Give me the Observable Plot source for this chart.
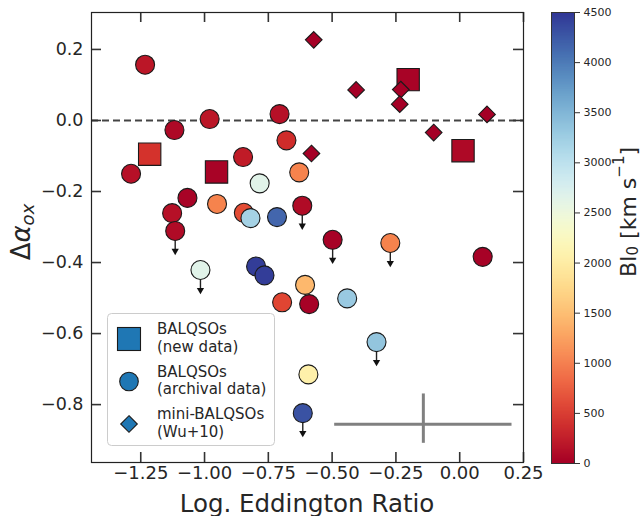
<!DOCTYPE html>
<html><head><meta charset="utf-8">
<script src="https://cdn.jsdelivr.net/npm/d3@7"></script>
<script src="https://cdn.jsdelivr.net/npm/@observablehq/plot@0.6"></script>
<style>
body{margin:0;background:#fff;font-family:"DejaVu Sans",sans-serif;}
#wrap{position:relative;width:642px;height:516px;overflow:hidden;}
#main{position:absolute;left:0;top:0;}
#cbar{position:absolute;left:540px;top:0;}
#legend{position:absolute;left:107px;top:313px;}
</style></head><body>
<div id="wrap"><div id="main"></div><div id="cbar"></div><div id="legend"></div></div>
<script>
// ---- data ----
// BALQSOs (new data): squares
const newX  = [-1.215, -0.953, -0.202, 0.013];
const newY  = [-0.095, -0.145, 0.115, -0.085];
const newBI = [450, 30, 30, 80];

// BALQSOs (archival data): circles (lim = upper limit)
const archX  = [-1.233, -0.980, -0.706, -1.118, -0.679, -0.849, -1.288, -0.629, -0.784, -1.067, -0.951, -1.127, -0.846, -0.820, -0.716, -0.617, -1.115, -0.498, -0.272, 0.090, -1.016, -0.798, -0.765, -0.606, -0.696, -0.590, -0.441, -0.326, -0.593, -0.615];
const archY  = [0.157, 0.004, 0.018, -0.027, -0.056, -0.103, -0.150, -0.146, -0.177, -0.218, -0.235, -0.261, -0.260, -0.275, -0.272, -0.240, -0.311, -0.336, -0.345, -0.384, -0.421, -0.411, -0.436, -0.463, -0.512, -0.517, -0.501, -0.624, -0.715, -0.824];
const archBI = [200, 200, 150, 80, 400, 250, 150, 1050, 2650, 30, 1050, 150, 650, 3200, 4150, 100, 100, 20, 1050, 20, 2650, 4450, 4450, 1450, 600, 20, 3300, 3350, 2050, 4300];
const archLim = [0,0,0,0,0,0,0,0,0,0,0,0,0,0,0,1,1,1,1,0,1,0,0,0,0,0,0,1,0,1];

// mini-BALQSOs (Wu+10): diamonds
const miniX  = [-0.572, -0.406, -0.231, -0.235, 0.107, -0.102, -0.581];
const miniY  = [0.227, 0.086, 0.087, 0.046, 0.017, -0.034, -0.093];
const miniBI = [0, 0, 0, 0, 0, 0, 0];

// typical error bar
const errCX = [-0.1425], errCY = [-0.855], errHalfX = [0.3475], errY1 = [-0.909], errY2 = [-0.770];

const xTicks = [-1.25, -1.00, -0.75, -0.50, -0.25, 0.00, 0.25];
const yTicks = [0.2, 0.0, -0.2, -0.4, -0.6, -0.8];
const cbTicks = [0, 500, 1000, 1500, 2000, 2500, 3000, 3500, 4000, 4500];
const legendLabels = [["BALQSOs", "(new data)"], ["BALQSOs", "(archival data)"], ["mini-BALQSOs", "(Wu+10)"]];
const xLabel = "Log. Eddington Ratio";

// ---- build ----
const arch = archX.map((x, i) => ({x, y: archY[i], bi: archBI[i], lim: archLim[i]}));
const newD = newX.map((x, i) => ({x, y: newY[i], bi: newBI[i]}));
const mini = miniX.map((x, i) => ({x, y: miniY[i], bi: miniBI[i]}));
const lims = arch.filter(d => d.lim);
const errH = errCX.map((x, i) => ({x1: x - errHalfX[i], x2: x + errHalfX[i], y: errCY[i]}));
const errV = errCX.map((x, i) => ({x, y1: errY1[i], y2: errY2[i]}));

const color = {type: "linear", scheme: "RdYlBu", domain: [0, 4500]};
const ink = "#262626";

// layout
const W = 540, H = 516, mL = 91, mR = 17, mT = 12, mB = 54;
const xDom = [-1.443, 0.25], yDom = [-0.963, 0.304];
const pxX = (W - mL - mR) / (xDom[1] - xDom[0]);   // px per x unit
const pxY = (H - mT - mB) / (yDom[1] - yDom[0]);   // px per y unit
const TICK = 10;                                     // inward tick length, px
const ARROW = 21 / pxY;                              // arrow shaft length

const tickStyle = {stroke: "#333", strokeWidth: 1.6};

const main = Plot.plot({
  width: W, height: H,
  marginLeft: mL, marginRight: mR, marginTop: mT, marginBottom: mB,
  x: {domain: xDom},
  y: {domain: yDom},
  color,
  style: {fontFamily: "DejaVu Sans", color: ink, background: "white", overflow: "visible"},
  marks: [
    Plot.ruleY([0], {stroke: "#444", strokeWidth: 2, strokeDasharray: "7,4"}),
    Plot.ruleY(errH, {y: "y", x1: "x1", x2: "x2", stroke: "#808080", strokeWidth: 3}),
    Plot.ruleX(errV, {x: "x", y1: "y1", y2: "y2", stroke: "#808080", strokeWidth: 3}),
    Plot.link(lims, {x1: "x", x2: "x", y1: "y", y2: d => d.y - ARROW, stroke: "#222", strokeWidth: 1.4}),
    Plot.dot(lims, {x: "x", y: "y", dy: 20, symbol: "triangle", rotate: 180, r: 2.7, fill: "#111", stroke: "none"}),
    Plot.dot(arch, {x: "x", y: "y", fill: "bi", r: 9.5, stroke: "#1a1a1a", strokeWidth: 1.1}),
    Plot.dot(newD, {x: "x", y: "y", fill: "bi", symbol: "square", r: 12.6, stroke: "#1a1a1a", strokeWidth: 1.1}),
    Plot.dot(mini, {x: "x", y: "y", fill: "bi", symbol: "diamond2", r: 7.5, stroke: "#1a1a1a", strokeWidth: 1.1}),
    // inward ticks on all four sides
    Plot.ruleX(xTicks, {x: d => d, y1: yDom[0], y2: yDom[0] + TICK / pxY, ...tickStyle}),
    Plot.ruleX(xTicks, {x: d => d, y1: yDom[1], y2: yDom[1] - TICK / pxY, ...tickStyle}),
    Plot.ruleY(yTicks, {y: d => d, x1: xDom[0], x2: xDom[0] + TICK / pxX, ...tickStyle}),
    Plot.ruleY(yTicks, {y: d => d, x1: xDom[1], x2: xDom[1] - TICK / pxX, ...tickStyle}),
    Plot.frame({stroke: "#222", strokeWidth: 1.2}),
    Plot.axisX({ticks: xTicks, anchor: "bottom", tickSize: 0, tickPadding: 4, tickFormat: d3.format(".2f"), fontSize: 18, label: null, fill: ink}),
    Plot.axisY({ticks: yTicks, anchor: "left", tickSize: 0, tickPadding: 8, tickFormat: d3.format(".1f"), fontSize: 17.5, label: null, fill: ink})
  ]
});
document.getElementById("main").appendChild(main);

const ms = d3.select(main);
ms.append("text").attr("x", mL + (W - mL - mR) / 2).attr("y", 503).attr("text-anchor", "middle").attr("dominant-baseline", "central")
  .attr("font-size", 24.5).attr("fill", ink).attr("font-family", "DejaVu Sans").text(xLabel);
const yl = ms.append("text").attr("transform", "translate(21,232) rotate(-90)").attr("text-anchor", "middle")
  .attr("dominant-baseline", "central").attr("font-size", 26).attr("fill", ink).attr("font-family", "DejaVu Sans");
yl.append("tspan").text("Δ");
yl.append("tspan").attr("font-style", "italic").text("α");
yl.append("tspan").attr("font-style", "italic").attr("font-size", 18).attr("dy", 6).text("ox");

// ---- colorbar ----
const STEP = 10;
const strips = d3.range(cbTicks[0], cbTicks[cbTicks.length - 1], STEP);
const cbar = Plot.plot({
  width: 102, height: 516,
  marginLeft: 11, marginRight: 68, marginTop: 12, marginBottom: 53,
  x: {domain: [0, 1], axis: null},
  y: {domain: [0, 4500], axis: null},
  color,
  style: {fontFamily: "DejaVu Sans", color: ink, background: "transparent", overflow: "visible"},
  marks: [
    Plot.rect(strips, {x1: 0, x2: 1, y1: d => d, y2: d => Math.min(d + STEP * 1.6, 4500), fill: d => d + STEP / 2}),
    Plot.frame({stroke: "#333", strokeWidth: 1}),
    Plot.axisY({ticks: cbTicks, anchor: "right", tickSize: 5, tickPadding: 4, tickFormat: d3.format("d"), fontSize: 11, label: null, stroke: "#333", fill: ink})
  ]
});
document.getElementById("cbar").appendChild(cbar);
const cl = d3.select(cbar).append("text").attr("transform", "translate(88,212) rotate(-90)").attr("text-anchor", "middle")
  .attr("dominant-baseline", "central").attr("font-size", 22).attr("fill", ink).attr("font-family", "DejaVu Sans");
cl.append("tspan").text("BI");
cl.append("tspan").attr("font-size", 15).attr("dy", 5).text("0");
cl.append("tspan").attr("dy", -5).text(" [km s");
cl.append("tspan").attr("font-size", 15).attr("dy", -9).text("−1");
cl.append("tspan").attr("dy", 9).text("]");

// ---- legend ----
const lg = d3.select("#legend").append("svg").attr("width", 170).attr("height", 136);
lg.append("rect").attr("x", 0.5).attr("y", 0.5).attr("width", 167).attr("height", 132).attr("rx", 4)
  .attr("fill", "white").attr("fill-opacity", 0.85).attr("stroke", "#cccccc");
const legBlue = "#1f77b4";
const rowY = [26, 68.5, 111];
lg.append("rect").attr("x", 22 - 11.5).attr("y", rowY[0] - 11.5).attr("width", 23).attr("height", 23)
  .attr("fill", legBlue).attr("stroke", "#1a1a1a").attr("stroke-width", 1.1);
lg.append("circle").attr("cx", 22).attr("cy", rowY[1]).attr("r", 9.3)
  .attr("fill", legBlue).attr("stroke", "#1a1a1a").attr("stroke-width", 1.1);
lg.append("path").attr("d", `M22,${rowY[2] - 8.3}L30.3,${rowY[2]}L22,${rowY[2] + 8.3}L13.7,${rowY[2]}Z`)
  .attr("fill", legBlue).attr("stroke", "#1a1a1a").attr("stroke-width", 1.1);
legendLabels.forEach((lines, i) => {
  lines.forEach((t, j) => {
    lg.append("text").attr("x", 50).attr("y", rowY[i] - 10 + j * 17.5).attr("dominant-baseline", "central")
      .attr("font-size", 15).attr("fill", ink).attr("font-family", "DejaVu Sans").text(t);
  });
});
</script>
</body></html>
